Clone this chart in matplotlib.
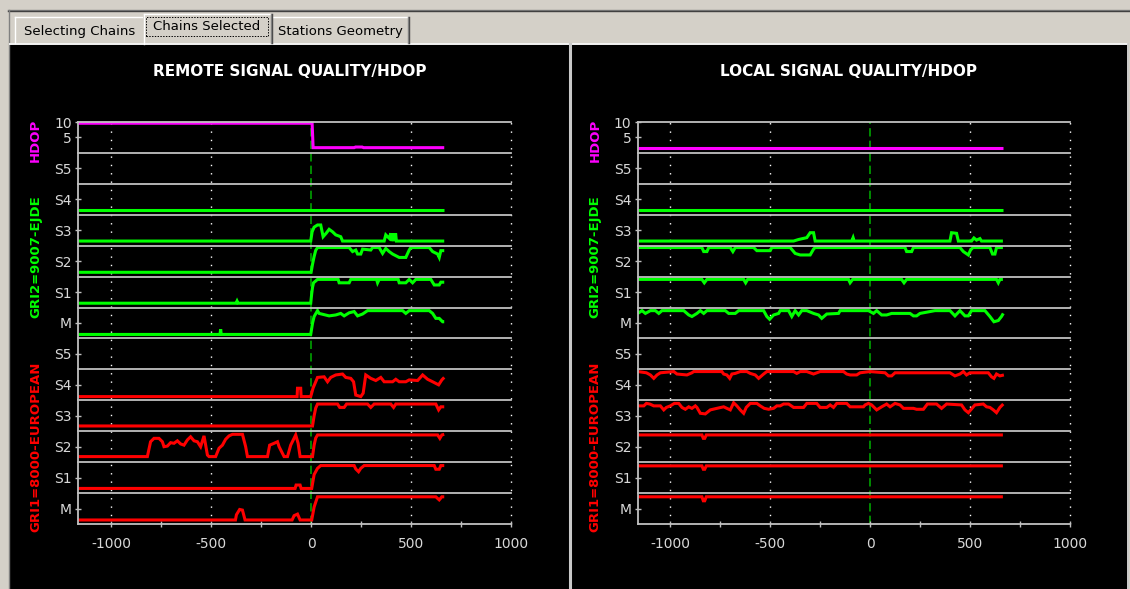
import matplotlib.pyplot as plt
from matplotlib.patches import Rectangle
from matplotlib.lines import Line2D

plt.rcParams['font.family'] = ['DejaVu Sans']
plt.rcParams['axes.unicode_minus'] = False
plt.rcParams['lines.scale_dashes'] = False

W, H = 1130, 589

tab_names = ['Selecting Chains', 'Chains Selected', 'Stations Geometry']
titles = ['REMOTE SIGNAL QUALITY/HDOP', 'LOCAL SIGNAL QUALITY/HDOP']
chain_names = ['HDOP', 'GRI2=9007-EJDE', 'GRI1=8000-EUROPEAN']
row_labels = ['M', 'S1', 'S2', 'S3', 'S4', 'S5', 'M', 'S1', 'S2', 'S3', 'S4', 'S5']
hdop_labels = ['5', '10']
x_major = [-1000, -500, 0, 500, 1000]
x_minor = [-750, -250, 250, 750]

# ---- remote panel ----  (x, value) ; HDOP in its own units, signals in % of row height
rem_hdop = [(-1163, 9.6), (5, 9.6), (10, 1.7), (215, 1.7), (222, 1.9), (255, 1.9), (262, 1.7), (665, 1.7)]

rem_g_s4 = [(-1163, 15), (665, 15)]
rem_g_s3 = [(-1163, 15), (-2, 15), (5, 45), (15, 60), (32, 67), (48, 67), (60, 29), (75, 40), (90, 53),
            (107, 45), (123, 35), (148, 29), (157, 15), (365, 15), (373, 35), (390, 24), (398, 40),
            (402, 15), (406, 40), (410, 15), (414, 40), (418, 15), (422, 40), (426, 15), (665, 15)]
rem_g_s2 = [(-1163, 14), (0, 14), (7, 40), (15, 65), (23, 85), (32, 94), (190, 94), (207, 81), (223, 86),
            (232, 73), (248, 73), (257, 89), (298, 86), (307, 94), (340, 94), (357, 75), (373, 91),
            (390, 81), (407, 73), (440, 62), (473, 62), (490, 86), (498, 94), (590, 94), (607, 81),
            (632, 73), (640, 62), (648, 84), (665, 84)]
rem_g_s1 = [(-1163, 14), (-375, 14), (-370, 21), (-365, 14), (-2, 14), (3, 45), (7, 65), (12, 80),
            (32, 91), (135, 91), (140, 80), (190, 80), (198, 91), (327, 91), (332, 80), (340, 91),
            (435, 91), (440, 80), (473, 80), (490, 91), (507, 80), (523, 91), (598, 91), (615, 73),
            (640, 73), (648, 82), (665, 82)]
rem_g_m = [(-1163, 13), (-455, 13), (-452, 30), (-449, 13), (-2, 13), (7, 49), (15, 71), (32, 90),
           (40, 81), (90, 73), (123, 76), (148, 81), (165, 73), (190, 83), (215, 87), (232, 73),
           (257, 79), (282, 90), (457, 90), (473, 81), (490, 90), (590, 90), (607, 81), (623, 65),
           (640, 65), (657, 54), (665, 54)]
rem_r_s4 = [(-1163, 12), (-70, 12), (-68, 39), (-52, 39), (-50, 12), (-2, 12), (10, 40), (23, 60),
            (32, 74), (65, 76), (82, 60), (98, 74), (123, 82), (157, 85), (173, 74), (198, 71),
            (212, 60), (223, 17), (248, 12), (260, 23), (273, 82), (298, 71), (323, 64), (348, 74),
            (365, 60), (407, 60), (423, 68), (440, 60), (473, 60), (490, 66), (532, 64), (557, 82),
            (582, 68), (607, 60), (637, 50), (653, 66), (665, 74)]
rem_r_s3 = [(-1163, 17), (7, 17), (15, 50), (23, 75), (32, 88), (132, 88), (143, 77), (165, 77),
            (177, 88), (282, 88), (298, 77), (315, 88), (398, 88), (412, 77), (423, 88), (623, 88),
            (637, 69), (648, 79), (665, 79)]
rem_r_s2 = [(-1163, 18), (-818, 18), (-802, 66), (-785, 77), (-760, 77), (-743, 66), (-735, 50),
            (-718, 52), (-702, 63), (-685, 61), (-668, 69), (-652, 59), (-635, 55), (-618, 72),
            (-602, 82), (-585, 69), (-568, 66), (-552, 50), (-535, 85), (-518, 23), (-510, 18),
            (-477, 18), (-460, 45), (-443, 55), (-427, 74), (-410, 85), (-393, 90), (-343, 90),
            (-327, 50), (-318, 18), (-218, 18), (-207, 55), (-185, 61), (-168, 66), (-160, 50),
            (-135, 18), (-118, 18), (-102, 55), (-77, 88), (-65, 61), (-55, 18), (7, 18), (15, 55),
            (23, 78), (32, 88), (632, 88), (643, 77), (653, 88), (665, 90)]
rem_r_s1 = [(-1163, 15), (-80, 15), (-75, 26), (-55, 26), (-50, 15), (3, 15), (15, 60), (32, 80),
            (48, 89), (215, 89), (223, 78), (237, 69), (248, 80), (265, 89), (615, 89), (623, 77),
            (640, 77), (648, 89), (665, 89)]
rem_r_m = [(-1163, 13), (-378, 13), (-373, 30), (-357, 47), (-343, 45), (-330, 13), (-95, 13),
           (-85, 27), (-68, 32), (-55, 13), (3, 13), (15, 55), (32, 88), (623, 88), (640, 78),
           (653, 88), (665, 88)]

# ---- local panel ----
loc_hdop = [(-1163, 1.7), (665, 1.7)]

loc_g_s4 = [(-1163, 15), (665, 15)]
loc_g_s3 = [(-1163, 15), (-383, 15), (-358, 20), (-317, 26), (-300, 42), (-283, 42), (-275, 15),
            (-92, 15), (-85, 26), (-80, 15), (400, 15), (408, 42), (433, 40), (442, 15), (508, 15),
            (520, 25), (533, 18), (550, 23), (558, 15), (665, 15)]
loc_g_s2 = [(-1163, 94), (-842, 94), (-833, 81), (-817, 81), (-808, 94), (-700, 94), (-687, 81),
            (-675, 94), (-583, 94), (-567, 84), (-500, 84), (-492, 94), (-400, 94), (-375, 75),
            (-350, 70), (-300, 70), (-283, 89), (-275, 94), (175, 94), (183, 81), (208, 81), (217, 94),
            (450, 94), (467, 81), (492, 70), (503, 86), (515, 94), (600, 94), (613, 73), (625, 73),
            (633, 94), (665, 94)]
loc_g_s1 = [(-1163, 91), (-842, 91), (-830, 80), (-817, 91), (-633, 91), (-623, 80), (-613, 91),
            (-108, 91), (-100, 80), (-87, 91), (158, 91), (170, 80), (183, 91), (633, 91), (642, 80),
            (650, 91), (665, 91)]
loc_g_m = [(-1163, 81), (-1142, 90), (-1125, 81), (-1100, 90), (-1075, 90), (-1058, 81), (-1042, 90),
           (-933, 90), (-908, 76), (-892, 71), (-867, 81), (-850, 90), (-833, 81), (-817, 90),
           (-725, 90), (-708, 81), (-675, 81), (-658, 90), (-533, 90), (-517, 71), (-503, 62),
           (-483, 76), (-458, 81), (-450, 90), (-408, 90), (-392, 71), (-375, 90), (-358, 76),
           (-342, 90), (-317, 90), (-283, 81), (-258, 76), (-242, 65), (-217, 79), (-158, 81),
           (-150, 90), (-8, 90), (17, 81), (33, 90), (58, 76), (83, 76), (108, 81), (125, 81),
           (200, 81), (217, 73), (233, 73), (250, 81), (325, 90), (400, 90), (425, 73), (450, 90),
           (475, 73), (492, 73), (508, 90), (575, 90), (600, 71), (620, 54), (642, 58), (658, 71),
           (667, 81)]
loc_r_s4 = [(-1163, 93), (-1120, 89), (-1100, 82), (-1083, 71), (-1067, 82), (-1050, 89), (-983, 93),
            (-967, 85), (-917, 82), (-892, 89), (-883, 93), (-742, 93), (-733, 85), (-717, 82),
            (-703, 71), (-692, 85), (-675, 87), (-650, 93), (-617, 93), (-600, 87), (-575, 82),
            (-558, 71), (-533, 85), (-517, 93), (-383, 93), (-367, 87), (-350, 93), (-317, 93),
            (-283, 85), (-250, 93), (-133, 93), (-117, 85), (-100, 82), (-67, 82), (-50, 89), (0, 93),
            (75, 89), (92, 79), (108, 79), (125, 89), (400, 89), (425, 79), (450, 85), (467, 93),
            (483, 82), (500, 89), (592, 89), (608, 76), (620, 71), (633, 85), (650, 79), (670, 82)]
loc_r_s3 = [(-1163, 82), (-1133, 82), (-1120, 90), (-1103, 88), (-1083, 82), (-1050, 82), (-1033, 69),
            (-1020, 77), (-1000, 82), (-980, 90), (-958, 90), (-942, 77), (-925, 71), (-908, 79),
            (-892, 74), (-875, 82), (-867, 77), (-850, 58), (-825, 56), (-800, 69), (-767, 74),
            (-733, 79), (-717, 74), (-700, 69), (-683, 92), (-667, 82), (-650, 69), (-633, 58),
            (-620, 77), (-600, 90), (-567, 90), (-550, 82), (-530, 74), (-508, 71), (-483, 74),
            (-467, 82), (-450, 82), (-433, 88), (-408, 88), (-383, 77), (-333, 77), (-317, 90),
            (-267, 90), (-250, 77), (-217, 77), (-200, 85), (-183, 77), (-167, 90), (-117, 90),
            (-100, 79), (-33, 79), (-25, 85), (-8, 90), (8, 85), (33, 69), (58, 79), (83, 88),
            (100, 79), (125, 90), (150, 85), (167, 74), (217, 74), (233, 71), (267, 71), (287, 88),
            (333, 88), (358, 74), (383, 88), (458, 85), (475, 69), (492, 60), (525, 85), (567, 88),
            (583, 79), (600, 77), (617, 69), (633, 60), (650, 77), (667, 88)]
loc_r_s2 = [(-1163, 88), (-842, 88), (-835, 77), (-828, 77), (-820, 88), (665, 88)]
loc_r_s1 = [(-1163, 88), (-842, 88), (-835, 77), (-828, 77), (-820, 88), (665, 88)]
loc_r_m = [(-1163, 88), (-842, 88), (-835, 75), (-828, 75), (-820, 88), (665, 88)]

GRID = '#c0c0c0'
LABEL = '#d8d8d8'
GREEN = '#00ff00'
RED = '#ff0000'
MAGENTA = '#ff00ff'

fig = plt.figure(figsize=(W / 100, H / 100), dpi=100, facecolor='#d4d0c8')


def box(x0, y0, x1, y1, **kw):
    fig.patches.append(Rectangle((x0 / W, 1 - y1 / H), (x1 - x0) / W, (y1 - y0) / H,
                                 transform=fig.transFigure, **kw))


def seg(x0, y0, x1, y1, color, lw=1, **kw):
    fig.add_artist(Line2D([x0 / W, x1 / W], [1 - y0 / H, 1 - y1 / H], color=color, lw=lw,
                          transform=fig.transFigure, **kw))


# window chrome
seg(8, 10, W, 10, '#808080', 1)
seg(8, 11, W, 11, '#404040', 1)
seg(8.5, 10, 8.5, H, '#808080', 1)
box(10, 44, 1127, H, fc='black', ec='none', zorder=-5)
seg(10, 43.5, 1127, 43.5, '#f4f4f4', 1.4)
seg(569.5, 44, 569.5, H, '#c8c8c8', 2.2)
seg(1128, 44, 1128, H, '#c8c8c8', 1.2)

# tabs
box(14, 16, 143, 43, fc='#d4d0c8', ec='none', zorder=-4)
seg(14.5, 43, 14.5, 17, 'white', 1)
seg(15, 16.5, 142, 16.5, 'white', 1)
box(273, 16, 409, 43, fc='#d4d0c8', ec='none', zorder=-4)
seg(273, 16.5, 407, 16.5, 'white', 1)
seg(408.5, 17, 408.5, 43, '#404040', 1)
seg(407.5, 17, 407.5, 43, '#808080', 1)
box(143, 13, 272, 44, fc='#d4d0c8', ec='none', zorder=-3)
seg(143.5, 44, 143.5, 14, 'white', 1)
seg(144, 13.5, 270, 13.5, 'white', 1)
seg(271.5, 14, 271.5, 43, '#404040', 1)
seg(270.5, 14, 270.5, 43, '#808080', 1)
box(146, 17, 268, 36, fill=False, ec='black', lw=0.7, ls=(0, (1, 1)))
for cx, cy, name in zip([80, 207, 340], [31, 27, 31], tab_names):
    fig.text(cx / W, 1 - cy / H, name, fontsize=9.5, color='black', ha='center', va='center')


def draw_panel(rect, title_x, label_x, hdop, rows):
    ax = fig.add_axes(rect)
    ax.set_facecolor('black')
    ax.set_xlim(-1163, 1000)
    ax.set_ylim(0, 13)
    for y in range(1, 14):
        ax.axhline(y, color=GRID, lw=1.3, zorder=3, clip_on=False)
    for x in [-1000, -500, 500, 1000]:
        ax.axvline(x, color='white', lw=1.0, ls=(0, (1, 5)), zorder=1, clip_on=False)
    ax.axvline(0, color='#00b000', lw=1.1, ls=(0, (6, 3)), zorder=1)

    hx = [p[0] for p in hdop]
    hy = [12 + p[1] / 10 for p in hdop]
    ax.plot(hx, hy, color=MAGENTA, lw=2.2, zorder=2, clip_on=False,
            solid_joinstyle='miter', solid_capstyle='butt')
    for row, pts, color in rows:
        xs = [p[0] for p in pts]
        ys = [row + p[1] / 100 for p in pts]
        ax.plot(xs, ys, color=color, lw=2.2, zorder=2,
                solid_joinstyle='miter', solid_capstyle='butt')

    for side in ['top', 'right']:
        ax.spines[side].set_visible(False)
    for side in ['left', 'bottom']:
        ax.spines[side].set_color(GRID)
        ax.spines[side].set_linewidth(1.3)

    ax.set_xticks(x_major)
    ax.set_xticklabels([str(v) for v in x_major])
    ax.set_xticks(x_minor, minor=True)
    ax.set_yticks([r + 0.5 for r in range(12)] + [12.5, 13])
    ax.set_yticklabels(row_labels + hdop_labels)
    ax.tick_params(axis='both', which='both', direction='inout', length=5, width=1,
                   color=GRID, labelcolor=LABEL, labelsize=10)
    ax.tick_params(axis='x', which='both', pad=7)
    ax.tick_params(axis='y', pad=2)

    fig.text(title_x / W, 1 - 71 / H, title, color='white', fontsize=11, fontweight='bold',
             ha='center', va='center')
    for cy, name, color in zip([140, 257, 447], chain_names, [MAGENTA, GREEN, RED]):
        fig.text(label_x / W, 1 - cy / H, name, color=color, fontsize=9.5, fontweight='bold',
                 rotation=90, ha='center', va='center')
    return ax


bottom = 1 - 524 / H
height = 402 / H

rem_rows = [(0, rem_r_m, RED), (1, rem_r_s1, RED), (2, rem_r_s2, RED), (3, rem_r_s3, RED),
            (4, rem_r_s4, RED), (6, rem_g_m, GREEN), (7, rem_g_s1, GREEN), (8, rem_g_s2, GREEN),
            (9, rem_g_s3, GREEN), (10, rem_g_s4, GREEN)]
loc_rows = [(0, loc_r_m, RED), (1, loc_r_s1, RED), (2, loc_r_s2, RED), (3, loc_r_s3, RED),
            (4, loc_r_s4, RED), (6, loc_g_m, GREEN), (7, loc_g_s1, GREEN), (8, loc_g_s2, GREEN),
            (9, loc_g_s3, GREEN), (10, loc_g_s4, GREEN)]

title = titles[0]
draw_panel([78.3 / W, bottom, 433 / W, height], 290, 35.5, rem_hdop, rem_rows)
title = titles[1]
draw_panel([637.8 / W, bottom, 432 / W, height], 849, 595, loc_hdop, loc_rows)

fig.savefig('out.png', dpi=100, facecolor=fig.get_facecolor())
